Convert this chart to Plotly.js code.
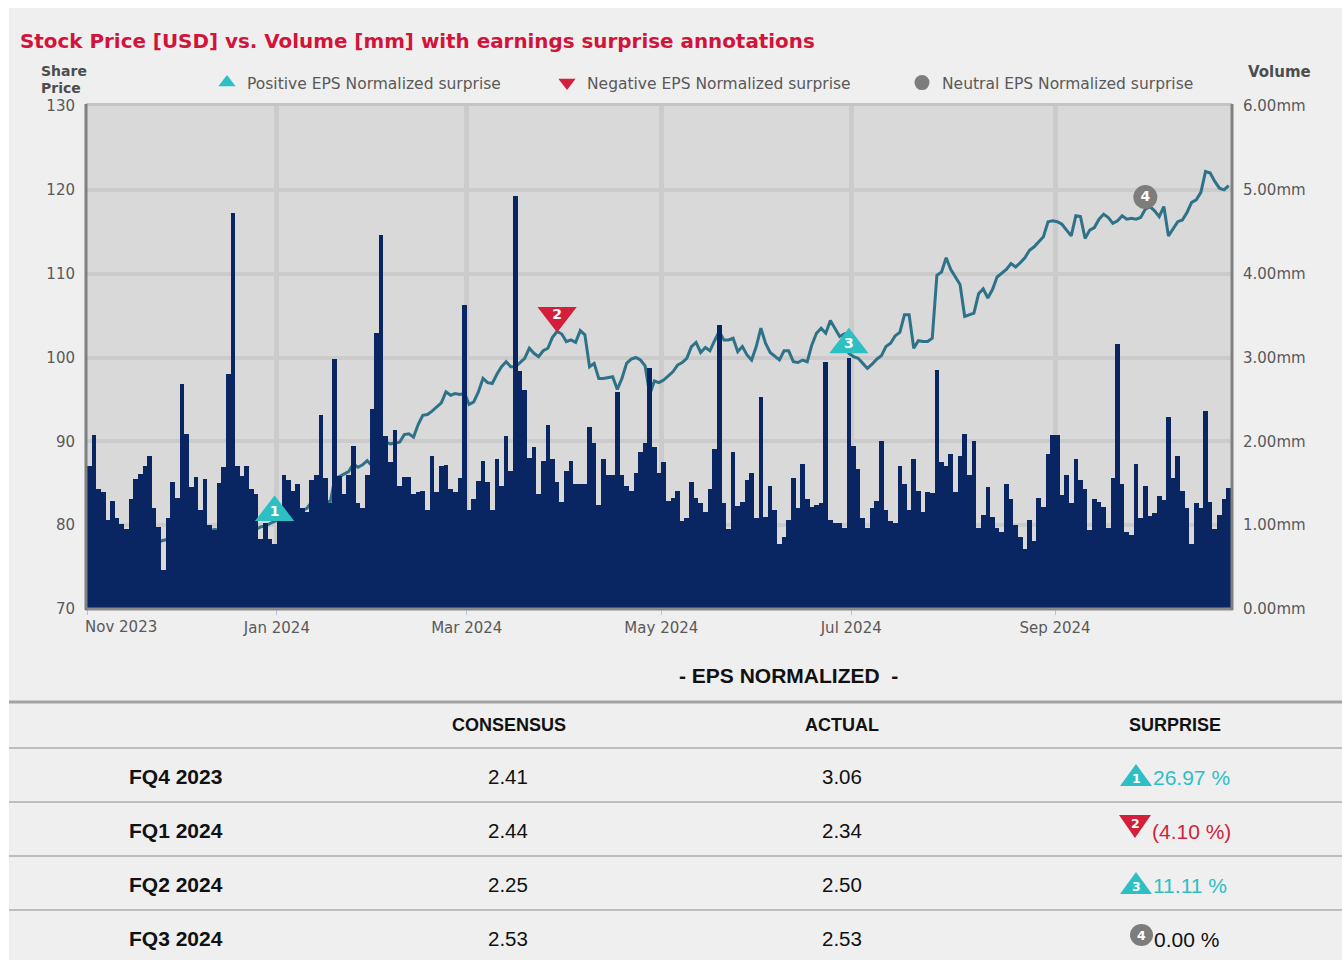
<!DOCTYPE html>
<html><head><meta charset="utf-8">
<script src="https://cdn.plot.ly/plotly-3.0.1.min.js"></script>
<style>html,body{margin:0;padding:0;background:#fff;} #chart{width:1342px;height:960px;}</style>
</head><body><div id="chart"></div>
<script>
// ---------- DATA ----------
const volume = [
1.71,2.07,1.43,1.39,1.06,1.29,1.08,1.01,0.95,1.31,1.55,1.61,
1.71,1.83,1.20,0.98,0.46,1.08,1.52,1.33,2.68,2.09,1.45,1.57,
1.18,1.55,1.00,0.94,1.50,1.69,2.80,4.72,1.71,1.59,1.71,
1.43,1.37,0.84,1.02,0.84,0.78,1.05,1.60,1.54,1.41,1.49,1.21,
1.16,1.54,1.60,2.32,1.56,1.27,2.98,1.59,1.37,1.60,1.94,1.27,
1.20,1.60,2.38,3.29,
4.46,2.06,1.75,2.14,1.47,1.58,1.58,1.37,
1.39,1.41,1.18,1.83,1.39,1.71,1.72,1.43,1.39,1.56,3.63,
1.18,1.31,1.53,1.77,1.52,1.18,1.79,1.47,2.06,1.65,4.93,2.84,
2.61,1.80,1.93,1.37,1.77,2.19,1.79,1.52,1.28,1.65,1.77,1.49,
1.49,1.49,2.17,1.98,1.24,1.79,1.60,1.60,2.59,1.60,1.47,1.41,
1.62,1.87,1.98,2.87,
1.93,1.62,1.75,1.29,1.33,1.41,1.05,
1.08,1.52,1.33,1.26,1.16,1.43,1.91,3.39,1.26,0.96,1.87,1.23,
1.28,1.54,1.62,1.08,2.53,1.10,1.47,1.18,0.78,0.86,1.06,1.56,
1.21,1.73,1.31,1.22,1.24,1.26,2.95,1.06,1.02,1.03,0.97,2.99,
1.94,1.67,1.08,0.97,1.20,1.29,2.00,1.18,1.05,1.03,1.71,
1.49,1.18,1.79,1.41,1.16,1.39,1.38,
2.85,1.75,1.71,1.85,1.39,
1.83,2.09,1.60,2.00,0.97,1.12,1.45,1.10,0.97,0.92,1.49,1.31,
1.00,0.86,0.71,1.06,0.81,1.33,1.22,1.85,2.07,2.07,1.36,1.60,
1.26,1.79,1.54,1.43,0.94,1.31,1.28,1.22,0.97,1.56,3.16,
1.49,0.92,0.88,1.73,1.09,1.47,1.11,1.15,1.35,1.30,2.29,1.56,
1.83,1.41,1.20,0.77,1.26,1.20,2.36,1.28,0.96,1.12,1.31,1.44
];
const price = [
77.5,77.3,77.4,77.1,77.2,76.9,77.0,76.8,76.5,76.7,76.4,76.4,
76.6,77.1,77.6,78.0,78.2,78.3,78.1,78.4,78.3,78.5,78.4,78.6,
78.8,79.0,79.3,79.5,79.4,79.6,79.7,79.5,79.3,79.3,79.2,79.3,
79.5,79.8,79.9,80.2,80.5,80.7,80.8,81.1,81.4,81.5,81.8,82.0,
82.8,83.2,83.3,83.0,82.7,85.5,85.8,86.1,86.4,87.3,86.9,87.2,87.7,87.1,
88.8,89.9,89.9,89.7,89.8,89.9,90.8,90.9,90.5,92.0,93.1,93.2,
93.6,94.1,94.6,95.9,95.5,95.7,95.6,95.7,94.4,94.7,95.9,97.5,
97.0,96.9,98.0,98.9,99.5,98.9,98.9,99.4,99.9,101.1,100.5,100.1,
100.8,101.1,102.4,103.1,102.8,101.9,102.1,101.8,103.2,102.7,98.9,99.3,
97.5,97.5,97.6,97.7,96.2,97.5,99.3,99.8,100.0,99.7,99.0,95.6,
97.2,97.0,97.3,97.8,98.3,99.1,99.4,99.9,101.3,101.8,100.6,101.2,
100.8,102.0,103.1,102.1,102.1,102.3,100.7,101.3,100.3,99.7,101.3,103.5,
101.7,100.6,100.2,99.7,100.8,100.8,99.5,99.4,99.7,99.5,101.5,102.9,
103.5,102.9,104.4,103.5,102.5,102.8,100.5,100.1,99.9,99.3,98.7,99.2,
99.8,100.2,101.3,101.7,102.6,103.0,105.1,105.1,101.1,102.0,101.9,101.9,102.3,
109.8,110.2,111.9,110.5,109.6,108.7,104.9,105.1,105.3,107.6,108.2,107.1,
108.1,109.6,110.1,110.5,111.2,110.8,111.3,111.9,112.8,113.2,113.8,114.4,
116.2,116.3,116.2,115.9,115.2,114.5,116.9,116.8,114.2,115.2,115.5,116.5,
117.1,116.7,116.0,116.3,116.9,116.5,116.6,116.5,116.7,117.7,118.0,117.5,
116.8,118.0,114.5,115.4,116.2,116.4,117.3,118.5,118.8,119.7,122.2,122.0,
121.0,120.2,120.0,120.5
];
const monthTickIdx = [0, 41, 82, 124, 165, 209];
const monthTickText = ['Nov 2023','Jan 2024','Mar 2024','May 2024','Jul 2024','Sep 2024'];
const priceTicks = [70, 80, 90, 100, 110, 120, 130];
const volumeTicks = [0, 1, 2, 3, 4, 5, 6];
const earnIdx = [40, 101, 164, 228];
const earnLabel = ['1', '2', '3', '4'];
const quarters = ['FQ4 2023', 'FQ1 2024', 'FQ2 2024', 'FQ3 2024'];
const consensus = [2.41, 2.44, 2.25, 2.53];
const actual = [3.06, 2.34, 2.50, 2.53];
const surprise = [26.97, -4.10, 11.11, 0.00];

// ---------- STYLE ----------
const W = 1342, H = 960;
const px = v => v / W;
const py = v => 1 - v / H;
const TEAL = '#2cc0c4', RED = '#d31f3b', GREY = '#7d7d7d';
const NAVY = '#0a2662', LINE = '#2e7289';
const CF = 'DejaVu Sans', TF = 'Liberation Sans';
const PLOT = {l: 87, r: 1231, t: 106, b: 609};
const pxToPrice = 60 / (PLOT.b - PLOT.t);

const N = volume.length;
const idx = volume.map((_, i) => i);

function kind(s) { return s > 0 ? 'pos' : (s < 0 ? 'neg' : 'neu'); }
const kinds = surprise.map(kind);
const symFor = {pos: 'triangle-up', neg: 'triangle-down', neu: 'circle'};
const colFor = {pos: TEAL, neg: RED, neu: GREY};
const sizeFor = {pos: 34, neg: 34, neu: 24};
const liftPx = {pos: 8.5, neg: 16, neu: 12};

const traces = [];
traces.push({type: 'scatter', mode: 'lines', x: idx, y: price, yaxis: 'y',
  line: {color: LINE, width: 3}, showlegend: false, hoverinfo: 'skip'});
traces.push({type: 'bar', x: idx, y: volume, yaxis: 'y2', marker: {color: NAVY, line: {width: 0}},
  showlegend: false, hoverinfo: 'skip'});
traces.push({type: 'scatter', mode: 'markers+text', yaxis: 'y3',
  x: earnIdx, y: earnIdx.map((i, k) => price[i] + liftPx[kinds[k]] * pxToPrice),
  text: earnLabel, textposition: 'middle center',
  textfont: {family: CF, size: 14, color: '#ffffff', weight: 'bold'},
  marker: {symbol: kinds.map(k => symFor[k]), color: kinds.map(k => colFor[k]),
           size: kinds.map(k => sizeFor[k]), opacity: 1, line: {width: 0}},
  showlegend: false, hoverinfo: 'skip'});
// legend entries
[['Positive EPS Normalized surprise', 'triangle-up', TEAL, 295],
 ['Negative EPS Normalized surprise', 'triangle-down', RED, 310],
 ['Neutral EPS Normalized surprise', 'circle', GREY, 300]].forEach(([n, s, c, lw]) => {
  traces.push({type: 'scatter', mode: 'markers', x: [null], y: [null], yaxis: 'y3', name: n,
    legendwidth: lw,
    marker: {symbol: s, color: c, size: 15, opacity: 1}, showlegend: true, hoverinfo: 'skip'});
});

const shapes = [];
const annotations = [];
// white outer strips
shapes.push({type: 'rect', xref: 'paper', yref: 'paper', x0: 0, x1: 1, y0: py(8), y1: 1, fillcolor: '#ffffff', line: {width: 0}, layer: 'below'});
shapes.push({type: 'rect', xref: 'paper', yref: 'paper', x0: 0, x1: px(9), y0: 0, y1: 1, fillcolor: '#ffffff', line: {width: 0}, layer: 'below'});
// plot frame
function hline(y, x0, x1, color, w) { shapes.push({type: 'line', xref: 'paper', yref: 'paper', x0: px(x0), x1: px(x1), y0: py(y), y1: py(y), line: {color: color, width: w}}); }
function vline(x, y0, y1, color, w) { shapes.push({type: 'line', xref: 'paper', yref: 'paper', x0: px(x), x1: px(x), y0: py(y0), y1: py(y1), line: {color: color, width: w}}); }
hline(104.5, 86, 1232, '#c4c4c4', 3);
hline(609, 85, 1233, '#8a8a8a', 3);
vline(86, 104, 610, '#808080', 3);
vline(1232, 104, 610, '#808080', 3);

function ann(text, x, y, opts) {
  annotations.push(Object.assign({text: text, x: px(x), y: py(y), xref: 'paper', yref: 'paper',
    showarrow: false, xanchor: 'left', yanchor: 'middle'}, opts));
}
// titles
ann('<b>Stock Price [USD] vs. Volume [mm] with earnings surprise annotations</b>', 18, 42,
  {font: {family: CF, size: 19.9, color: '#d2133a'}});
ann('<b>Share</b>', 39, 71.5, {font: {family: CF, size: 14, color: '#4d4d4d'}});
ann('<b>Price</b>', 39, 88, {font: {family: CF, size: 14, color: '#4d4d4d'}});
ann('<b>Volume</b>', 1246, 72, {font: {family: CF, size: 15, color: '#4d4d4d'}});
ann(monthTickText[0], 83, 627, {font: {family: CF, size: 15, color: '#595959'}});

// ---------- TABLE ----------
ann('<b>- EPS NORMALIZED\u00a0 -</b>', 788, 675, {xanchor: 'center', font: {family: TF, size: 21, color: '#111'}});
hline(702, 9, 1342, '#a3a3a3', 3);
const colX = {cons: 509, act: 842, sur: 1175};
ann('<b>CONSENSUS</b>', colX.cons, 725, {xanchor: 'center', font: {family: TF, size: 18, color: '#111'}});
ann('<b>ACTUAL</b>', colX.act, 725, {xanchor: 'center', font: {family: TF, size: 18, color: '#111'}});
ann('<b>SURPRISE</b>', colX.sur, 725, {xanchor: 'center', font: {family: TF, size: 18, color: '#111'}});
hline(748, 9, 1342, '#bdbdbd', 2);
const rowY0 = 776, rowH = 54;
quarters.forEach((q, r) => {
  const y = rowY0 + r * rowH;
  ann('<b>' + q + '</b>', 127, y, {font: {family: TF, size: 21, color: '#111'}});
  ann(consensus[r].toFixed(2), colX.cons - 1, y, {xanchor: 'center', font: {family: TF, size: 20.5, color: '#111'}});
  ann(actual[r].toFixed(2), colX.act, y, {xanchor: 'center', font: {family: TF, size: 20.5, color: '#111'}});
  const k = kinds[r];
  const s = surprise[r];
  const txt = k === 'neg' ? '(' + Math.abs(s).toFixed(2) + ' %)' : s.toFixed(2) + ' %';
  const tcol = k === 'pos' ? TEAL : (k === 'neg' ? RED : '#111');
  if (k === 'pos') {
    shapes.push({type: 'path', xref: 'paper', yref: 'paper', fillcolor: TEAL, line: {width: 0},
      path: `M ${px(1120)},${py(y + 10)} L ${px(1152)},${py(y + 10)} L ${px(1136)},${py(y - 12)} Z`});
    ann('<b>' + earnLabel[r] + '</b>', 1136, y + 2, {xanchor: 'center', font: {family: CF, size: 12.5, color: '#fff'}});
    ann(txt, 1151, y + 1, {font: {family: TF, size: 21, color: tcol}});
  } else if (k === 'neg') {
    shapes.push({type: 'path', xref: 'paper', yref: 'paper', fillcolor: RED, line: {width: 0},
      path: `M ${px(1119)},${py(y - 15)} L ${px(1151)},${py(y - 15)} L ${px(1135)},${py(y + 8)} Z`});
    ann('<b>' + earnLabel[r] + '</b>', 1135, y - 7, {xanchor: 'center', font: {family: CF, size: 12.5, color: '#fff'}});
    ann(txt, 1150, y + 1, {font: {family: TF, size: 21, color: tcol}});
  } else {
    shapes.push({type: 'circle', xref: 'paper', yref: 'paper', fillcolor: GREY, line: {width: 0},
      x0: px(1130), x1: px(1153), y0: py(y + 8), y1: py(y - 14)});
    ann('<b>' + earnLabel[r] + '</b>', 1141, y - 3, {xanchor: 'center', font: {family: CF, size: 12.5, color: '#fff'}});
    ann(txt, 1152, y + 1, {font: {family: TF, size: 21, color: tcol}});
  }
  if (r < quarters.length - 1) hline(y + 26, 9, 1342, '#bdbdbd', 2);
});

const layout = {
  width: W, height: H,
  margin: {l: 0, r: 0, t: 0, b: 0, pad: 0},
  paper_bgcolor: '#efefef', plot_bgcolor: '#d9d9d9',
  showlegend: true,
  bargap: 0,
  xaxis: {domain: [px(PLOT.l), px(PLOT.r)], range: [-0.5, N - 0.5], type: 'linear',
    tickvals: monthTickIdx.map(i => i - 0.5), ticktext: ['', ...monthTickText.slice(1)],
    showgrid: true, gridcolor: '#cbcbcb', gridwidth: 5, zeroline: false, showline: false,
    ticks: 'outside', ticklen: 5, tickwidth: 1, tickcolor: '#a9c4e4',
    tickfont: {family: CF, size: 15, color: '#595959'}, fixedrange: true},
  yaxis: {domain: [py(PLOT.b), py(PLOT.t)], range: [70, 130], tickvals: priceTicks,
    showgrid: true, gridcolor: '#cbcbcb', gridwidth: 4, zeroline: false, showline: false,
    ticks: '', ticklabelstandoff: 11, tickfont: {family: CF, size: 15, color: '#595959'}, fixedrange: true},
  yaxis2: {overlaying: 'y', side: 'right', anchor: 'x', range: [0, 6], tickvals: volumeTicks,
    ticktext: volumeTicks.map(v => v.toFixed(2) + 'mm'), showgrid: false, zeroline: false, showline: false,
    ticks: '', ticklabelstandoff: 11, tickfont: {family: CF, size: 15, color: '#595959'}, fixedrange: true},
  yaxis3: {overlaying: 'y', anchor: 'x', range: [70, 130], visible: false, fixedrange: true},
  legend: {orientation: 'h', x: px(207), xanchor: 'left', y: py(83), yanchor: 'middle',
    entrywidthmode: 'pixels', bgcolor: 'rgba(0,0,0,0)', borderwidth: 0,
    font: {family: CF, size: 15.5, color: '#595959'}, itemclick: false, itemdoubleclick: false},
  shapes: shapes,
  annotations: annotations
};

Plotly.newPlot('chart', traces, layout, {displayModeBar: false, staticPlot: true});
</script>
</body></html>
